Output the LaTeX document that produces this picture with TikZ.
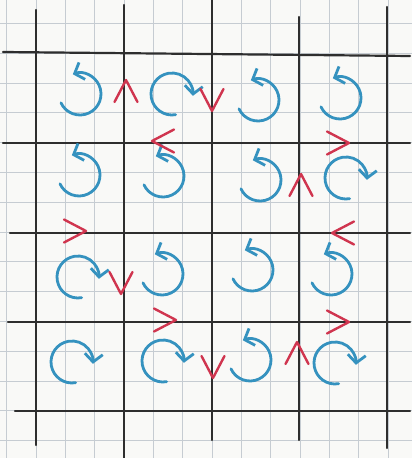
\documentclass[tikz,border=0pt]{standalone}
\usetikzlibrary{arrows.meta}
\definecolor{paper}{HTML}{F9F9F7}
\definecolor{gridblue}{HTML}{C6CCD2}
\definecolor{pencil}{HTML}{2E2E2E}
\definecolor{curlblue}{HTML}{3592BF}
\definecolor{flowred}{HTML}{D0354F}

\begin{document}
\begin{tikzpicture}[x=1pt, y=1pt,
  paperline/.style={gridblue, line width=0.7pt},
  thickline/.style={pencil, line width=2.2pt, line cap=round},
  curl/.style={curlblue, line width=2.8pt, line cap=round, line join=round, -{Straight Barb[length=8pt, width=18pt]}},
  flowmark/.style={flowred, line width=2.4pt, line cap=round, line join=round}]

% Background
\fill[paper] (0,0) rectangle (412,458);
\useasboundingbox (0,0) rectangle (412,458);
\draw[paperline, xstep=29.33pt, ystep=29.8pt, shift={(6.7,17.5)}] (-6.7,-17.5) grid (405.3,440.5);

% Thick lines
\draw[thickline] (3,406) -- (410,402);
\draw[thickline] (3,315) -- (410,315);
\draw[thickline] (10,225) -- (410,225);
\draw[thickline] (8,136) -- (410,136);
\draw[thickline] (15,47) -- (410,47);
\draw[thickline] (36,448) -- (36,13);
\draw[thickline] (124,453) -- (124,0);
\draw[thickline] (212,458) -- (212,18);
\draw[thickline] (299,441) -- (299,18);
\draw[thickline] (387,451) -- (387,10);

% Row 1
\draw[curl] (80,364) ++(205:21) arc[start angle=205, end angle=470, radius=21];
\draw[curl] (172,364) ++(280:21) arc[start angle=280, end angle=-5, radius=21];
\draw[curl] (258,358) ++(205:21) arc[start angle=205, end angle=470, radius=21];
\draw[curl] (340,360) ++(205:21) arc[start angle=205, end angle=470, radius=21];

% Row 2
\draw[curl] (79,283) ++(205:21) arc[start angle=205, end angle=470, radius=21];
\draw[curl] (163,282) ++(205:21) arc[start angle=205, end angle=470, radius=21];
\draw[curl] (260,278) ++(205:21) arc[start angle=205, end angle=470, radius=21];
\draw[curl] (346,280) ++(280:21) arc[start angle=280, end angle=-5, radius=21];

% Row 3
\draw[curl] (78,181) ++(280:21) arc[start angle=280, end angle=-5, radius=21];
\draw[curl] (162,184) ++(205:21) arc[start angle=205, end angle=470, radius=21];
\draw[curl] (252,188) ++(205:21) arc[start angle=205, end angle=470, radius=21];
\draw[curl] (331,184) ++(205:21) arc[start angle=205, end angle=470, radius=21];

% Row 4
\draw[curl] (72,96) ++(280:21) arc[start angle=280, end angle=-5, radius=21];
\draw[curl] (163,97) ++(280:21) arc[start angle=280, end angle=-5, radius=21];
\draw[curl] (250,98) ++(205:21) arc[start angle=205, end angle=470, radius=21];
\draw[curl] (335,95) ++(280:21) arc[start angle=280, end angle=-5, radius=21];

% Flow marks on the edges
\draw[flowmark, shift={(126,367)}, rotate=90] (-11,11.5) -- (11,0) -- (-11,-11.5);
\draw[flowmark, shift={(212,358)}, rotate=270] (-11,11.5) -- (11,0) -- (-11,-11.5);
\draw[flowmark, shift={(163,317)}, rotate=180] (-11,11.5) -- (11,0) -- (-11,-11.5);
\draw[flowmark, shift={(338,315)}] (-11,11.5) -- (11,0) -- (-11,-11.5);
\draw[flowmark, shift={(301,273)}, rotate=90] (-11,11.5) -- (11,0) -- (-11,-11.5);
\draw[flowmark, shift={(75,227)}] (-11,11.5) -- (11,0) -- (-11,-11.5);
\draw[flowmark, shift={(343,225)}, rotate=180] (-11,11.5) -- (11,0) -- (-11,-11.5);
\draw[flowmark, shift={(121,175)}, rotate=270] (-11,11.5) -- (11,0) -- (-11,-11.5);
\draw[flowmark, shift={(165,138)}] (-11,11.5) -- (11,0) -- (-11,-11.5);
\draw[flowmark, shift={(338,136)}] (-11,11.5) -- (11,0) -- (-11,-11.5);
\draw[flowmark, shift={(213,91)}, rotate=270] (-11,11.5) -- (11,0) -- (-11,-11.5);
\draw[flowmark, shift={(297,105)}, rotate=90] (-11,11.5) -- (11,0) -- (-11,-11.5);

\end{tikzpicture}
\end{document}
